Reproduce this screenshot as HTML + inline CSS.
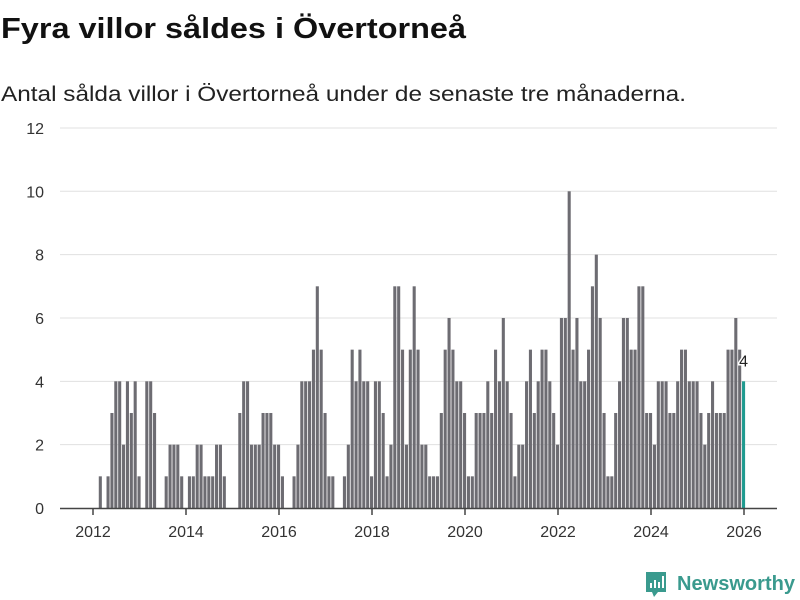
<!DOCTYPE html>
<html><head><meta charset="utf-8"><style>
body{margin:0;background:#fff;}
svg{display:block;font-family:"Liberation Sans",sans-serif;}
</style></head><body>
<svg id="chart" width="800" height="600">
<text x="1" y="38" font-size="29" font-weight="bold" fill="#111" textLength="465" lengthAdjust="spacingAndGlyphs">Fyra villor såldes i Övertorneå</text>
<text x="1" y="101" font-size="21" fill="#222" textLength="685" lengthAdjust="spacingAndGlyphs">Antal sålda villor i Övertorneå under de senaste tre månaderna.</text>
<g id="grid"></g><g id="bars"></g><g id="xaxis"></g>
<g>
<path d="M646 572 h20 v20 h-8 l-4 5 l-2 -5 h-6 z" fill="#3a9a8e"/>
<rect x="650" y="583" width="2" height="5" fill="#fff"/><rect x="654" y="580" width="2" height="8" fill="#fff"/><rect x="658" y="582" width="2" height="6" fill="#fff"/><rect x="662" y="576" width="2" height="12" fill="#fff"/>
<text x="677" y="590" font-size="20" font-weight="bold" fill="#3a9a8e" textLength="118" lengthAdjust="spacingAndGlyphs">Newsworthy</text>
</g>
</svg>
<script>
const values2012=[0,1,0,1,3,4,4,2,4,3,4,1];
const values2013=[0,4,4,3,0,0,1,2,2,2,1,0];
const values2014=[1,1,2,2,1,1,1,2,2,1,0,0];
const values2015=[0,3,4,4,2,2,2,3,3,3,2,2];
const values2016=[1,0,0,1,2,4,4,4,5,7,5,3];
const values2017=[1,1,0,0,1,2,5,4,5,4,4,1];
const values2018=[4,4,3,1,2,7,7,5,2,5,7,5];
const values2019=[2,2,1,1,1,3,5,6,5,4,4,3];
const values2020=[1,1,3,3,3,4,3,5,4,6,4,3];
const values2021=[1,2,2,4,5,3,4,5,5,4,3,2];
const values2022=[6,6,10,5,6,4,4,5,7,8,6,3];
const values2023=[1,1,3,4,6,6,5,5,7,7,3,3];
const values2024=[2,4,4,4,3,3,4,5,5,4,4,4];
const values2025=[3,2,3,4,3,3,3,5,5,6,5,4];
const startYear=2012;
const yTicks=[0,2,4,6,8,10,12];
const xTickYears=[2012,2014,2016,2018,2020,2022,2024,2026];
const values=[].concat(values2012,values2013,values2014,values2015,values2016,values2017,values2018,values2019,values2020,values2021,values2022,values2023,values2024,values2025);
const NS="http://www.w3.org/2000/svg";
const x0=93,yearW=46.5,y0=508,unit=31.67;
const xm=i=>x0+1.5+i*yearW/12;
const xy=yr=>x0+(yr-startYear)*yearW;
const y=v=>y0-v*unit;
function mk(t,a,p){const e=document.createElementNS(NS,t);for(const k in a)e.setAttribute(k,a[k]);p.appendChild(e);return e;}
const grid=document.getElementById('grid');
yTicks.forEach(v=>{
 if(v>0){const l=mk('line',{x1:60,x2:777,y1:y(v),y2:y(v),stroke:'#e0e0e0','stroke-width':1},grid);
 
 }
 const t=mk('text',{x:44,y:y(v)+6,'text-anchor':'end','font-size':16,fill:'#333'},grid);
 t.textContent=v;
 
 
});
const bars=document.getElementById('bars');
const bw=yearW/12;
values.forEach((v,i)=>{
 if(v<=0)return;
 const last=i===values.length-1;
 const r=mk('rect',{x:xm(i)+0.4,y:y(v),width:bw-0.8,height:v*unit,fill:last?'#1f9a8f':'#6d6c72'},bars);
 
 
});
const li=values.length-1;
const lab=mk('text',{x:xm(li)+bw/2,y:y(values[li])-15,'text-anchor':'middle','font-size':16,fill:'#222',stroke:'#fff','stroke-width':3,'paint-order':'stroke'},bars);
lab.textContent=values[li];


const xa=document.getElementById('xaxis');
const ax=mk('line',{x1:60,x2:777,y1:y0+0.5,y2:y0+0.5,stroke:'#444','stroke-width':1.5},xa);


xTickYears.forEach(yr=>{
 const tk=mk('line',{x1:xy(yr),x2:xy(yr),y1:y0,y2:y0+7,stroke:'#444','stroke-width':1.5},xa);
 
 
 const t=mk('text',{x:xy(yr),y:537,'text-anchor':'middle','font-size':16,fill:'#333'},xa);
 t.textContent=yr;
 
 
});
</script>
</body></html>
